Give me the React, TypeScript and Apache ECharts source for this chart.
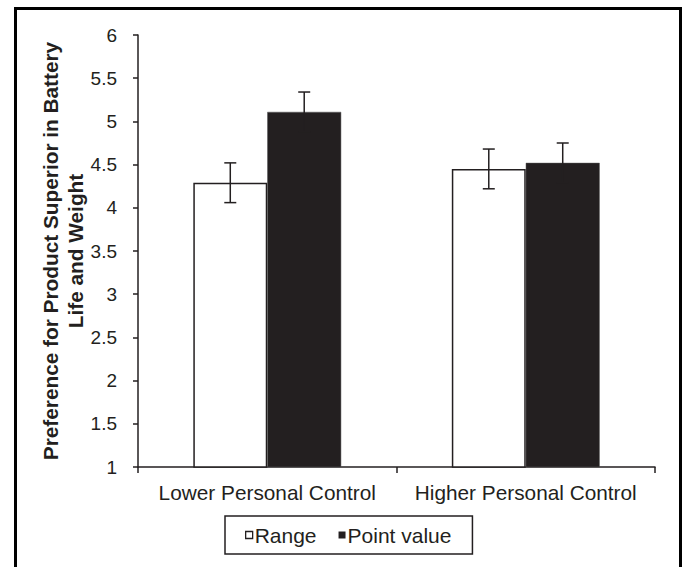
import React, { useEffect, useRef } from "react";
import * as echarts from "echarts";

const categories = ["Lower Personal Control", "Higher Personal Control"];
const rangeValues = [4.29, 4.45];
const pointValues = [5.11, 4.52];
const rangeErrors = [0.23, 0.23];
const pointErrors = [0.23, 0.23];
const yTicks = { min: 1, max: 6, interval: 0.5 };
const seriesNames = ["Range", "Point value"];

const INK = "#231f20";
const FONT = "'Liberation Sans', Arial, sans-serif";
const BAR_FRAC = 0.286;

function errorSeries(name: string, values: number[], errs: number[], side: number) {
  return {
    type: "custom",
    name: name + " error",
    z: 5,
    silent: true,
    data: values.map((v, i) => [i, v - errs[i], v + errs[i]]),
    renderItem: (params: any, api: any) => {
      const x = api.value(0);
      const lo = api.value(1);
      const hi = api.value(2);
      const band = api.size([1, 0])[0];
      const off = side * band * BAR_FRAC * 0.5;
      const pTop = api.coord([x, hi]);
      const pBot = api.coord([x, lo]);
      const cx = pTop[0] + off;
      const cap = 6;
      const style = { stroke: INK, lineWidth: 1.5, fill: "none" };
      return {
        type: "group",
        children: [
          { type: "line", shape: { x1: cx, y1: pTop[1], x2: cx, y2: pBot[1] }, style },
          { type: "line", shape: { x1: cx - cap, y1: pTop[1], x2: cx + cap, y2: pTop[1] }, style },
          { type: "line", shape: { x1: cx - cap, y1: pBot[1], x2: cx + cap, y2: pBot[1] }, style },
        ],
      };
    },
  };
}

export default function App() {
  const ref = useRef<HTMLDivElement>(null);
  useEffect(() => {
    if (!ref.current) return;
    const chart = echarts.init(ref.current, null, { renderer: "svg" });
    chart.setOption({
      animation: false,
      backgroundColor: "#ffffff",
      textStyle: { fontFamily: FONT, color: INK },
      graphic: [
        {
          type: "rect",
          shape: { x: 15.5, y: 8.5, width: 665, height: 620 },
          style: { fill: "none", stroke: "#000", lineWidth: 3 },
          silent: true,
          z: 100,
        },
      ],
      grid: { left: 138, right: 29, top: 35, bottom: 100 },
      legend: {
        left: 225,
        top: 516,
        orient: "horizontal",
        icon: "rect",
        itemWidth: 7,
        itemHeight: 7,
        itemGap: 22,
        padding: [8, 21, 8, 20],
        borderColor: INK,
        borderWidth: 1.5,
        borderRadius: 0,
        textStyle: { fontFamily: FONT, fontSize: 21, color: INK, lineHeight: 22, padding: [0, 0, 0, -3] },
        data: [
          { name: seriesNames[0], itemStyle: { color: "#ffffff", borderColor: INK, borderWidth: 1.3 } },
          { name: seriesNames[1], itemStyle: { color: INK, borderWidth: 0 } },
        ],
      },
      xAxis: {
        type: "category",
        data: categories,
        axisLine: { lineStyle: { color: INK, width: 1.5 } },
        axisTick: { show: true, length: 6, inside: false, lineStyle: { color: INK, width: 1.5 } },
        axisLabel: { fontFamily: FONT, fontSize: 20.8, color: INK, margin: 15, interval: 0 },
        splitLine: { show: false },
      },
      yAxis: {
        type: "value",
        min: yTicks.min,
        max: yTicks.max,
        interval: yTicks.interval,
        name: "Preference for Product Superior in Battery\nLife and Weight",
        nameLocation: "middle",
        nameGap: 50,
        nameMoveOverlap: false,
        nameTextStyle: { fontFamily: FONT, fontSize: 20.8, fontWeight: "bold", color: INK, lineHeight: 25, align: "center" },
        axisLine: { show: true, lineStyle: { color: INK, width: 1.5 } },
        axisTick: { show: true, length: 5, inside: false, lineStyle: { color: INK, width: 1.5 } },
        axisLabel: { fontFamily: FONT, fontSize: 19, color: INK, margin: 21 },
        splitLine: { show: false },
      },
      series: [
        {
          type: "bar",
          name: seriesNames[0],
          data: rangeValues,
          barWidth: BAR_FRAC * 100 + "%",
          barGap: "0%",
          itemStyle: { color: "#ffffff", borderColor: INK, borderWidth: 1.5 },
        },
        {
          type: "bar",
          name: seriesNames[1],
          data: pointValues,
          barWidth: BAR_FRAC * 100 + "%",
          barGap: "0%",
          itemStyle: { color: INK, borderColor: "#555", borderWidth: 0.5 },
        },
        errorSeries(seriesNames[0], rangeValues, rangeErrors, -1),
        errorSeries(seriesNames[1], pointValues, pointErrors, 1),
      ],
    });
    return () => chart.dispose();
  }, []);
  return (
    <div
      ref={ref}
      style={{ position: "fixed", left: 0, top: 0, width: 684, height: 567, background: "#fff" }}
    />
  );
}
